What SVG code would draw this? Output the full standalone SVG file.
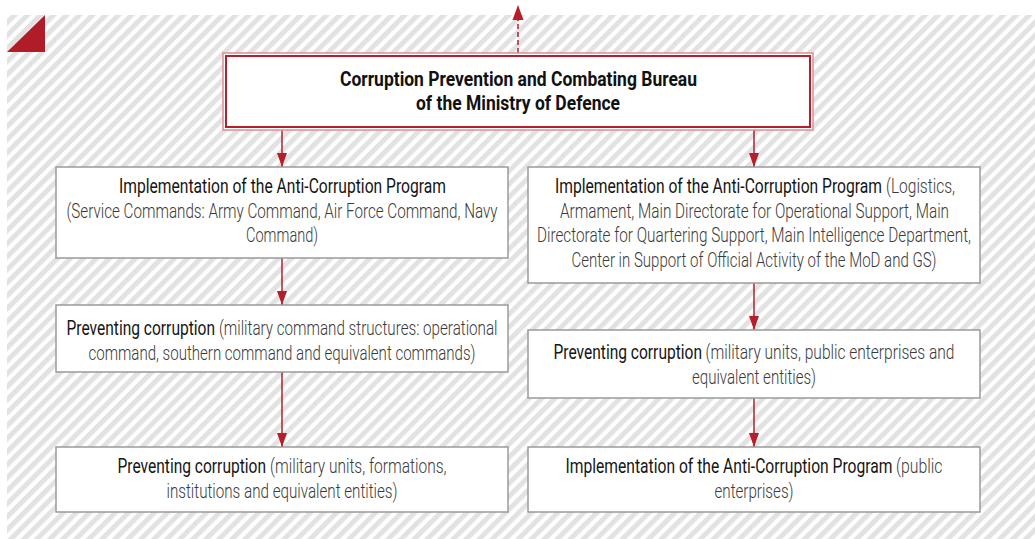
<svg xmlns="http://www.w3.org/2000/svg" width="1035" height="539" viewBox="0 0 1035 539">
<defs>
<pattern id="hatch" width="9.2" height="20" patternUnits="userSpaceOnUse" patternTransform="rotate(45)">
<rect x="0" y="0" width="9.2" height="20" fill="#ffffff"/>
<rect x="0" y="0" width="5" height="20" fill="#e2e2e2"/>
</pattern>
<marker id="ah" viewBox="0 0 14 10" refX="14" refY="5" markerWidth="14" markerHeight="10" markerUnits="userSpaceOnUse" orient="auto">
<path d="M0,0 L14,5 L0,10 Z" fill="#b51f2c"/>
</marker>
</defs>
<style>
.box{fill:#ffffff;stroke:#9a9a9a;stroke-width:1.5}
.t{font-family:Roboto,"Liberation Sans",sans-serif;font-size:14px;fill:#151515}
.l{font-weight:300;fill:#3a3a3a}
.b{font-family:Roboto,"Liberation Sans",sans-serif;font-size:14px;font-weight:700;fill:#111}
.con{stroke:#b51f2c;stroke-width:1.5;fill:none}
</style>
<rect x="7" y="15" width="1028" height="524" fill="url(#hatch)"/>
<polygon points="7,52 45,15 45,52" fill="#b01c28"/>
<g id="connectors">
<line class="con" x1="518" y1="53" x2="518" y2="20" stroke-dasharray="5,3"/>
<polygon points="518,5 512.5,20 523.5,20" fill="#b51f2c"/>
<line class="con" x1="282" y1="130" x2="282" y2="167" marker-end="url(#ah)"/>
<line class="con" x1="754" y1="130" x2="754" y2="167" marker-end="url(#ah)"/>
<line class="con" x1="282" y1="258" x2="282" y2="305" marker-end="url(#ah)"/>
<line class="con" x1="282" y1="372" x2="282" y2="447" marker-end="url(#ah)"/>
<line class="con" x1="754" y1="283" x2="754" y2="330" marker-end="url(#ah)"/>
<line class="con" x1="754" y1="398" x2="754" y2="447" marker-end="url(#ah)"/>
</g>
<g id="bureau">
<rect x="223" y="53" width="590" height="77" fill="#ffffff" stroke="#e08d94" stroke-width="1.5"/>
<rect x="226" y="56" width="584" height="71" fill="#ffffff" stroke="#b51f2c" stroke-width="2"/>
<text class="b" transform="translate(340 86) scale(1 1.4)" textLength="357" lengthAdjust="spacingAndGlyphs">Corruption Prevention and Combating Bureau</text>
<text class="b" transform="translate(416 110) scale(1 1.4)" textLength="204" lengthAdjust="spacingAndGlyphs">of the Ministry of Defence</text>
</g>
<g id="left1">
<rect class="box" x="56" y="167" width="452" height="91"/>
<text class="t" transform="translate(119 193) scale(1 1.43)" textLength="327" lengthAdjust="spacingAndGlyphs">Implementation of the Anti-Corruption Program</text>
<text class="t l" transform="translate(66.5 217.5) scale(1 1.43)" textLength="431" lengthAdjust="spacingAndGlyphs">(Service Commands: Army Command, Air Force Command, Navy</text>
<text class="t l" transform="translate(246 242) scale(1 1.43)" textLength="72" lengthAdjust="spacingAndGlyphs">Command)</text>
</g>
<g id="right1">
<rect class="box" x="528" y="167" width="452" height="116"/>
<text class="t" transform="translate(555 193) scale(1 1.43)" textLength="327" lengthAdjust="spacingAndGlyphs">Implementation of the Anti-Corruption Program</text>
<text class="t l" transform="translate(886 193) scale(1 1.43)" textLength="69" lengthAdjust="spacingAndGlyphs">(Logistics,</text>
<text class="t l" transform="translate(560 217.5) scale(1 1.43)" textLength="389" lengthAdjust="spacingAndGlyphs">Armament, Main Directorate for Operational Support, Main</text>
<text class="t l" transform="translate(537 242) scale(1 1.43)" textLength="434" lengthAdjust="spacingAndGlyphs">Directorate for Quartering Support, Main Intelligence Department,</text>
<text class="t l" transform="translate(571.5 266.5) scale(1 1.43)" textLength="365" lengthAdjust="spacingAndGlyphs">Center in Support of Official Activity of the MoD and GS)</text>
</g>
<g id="left2">
<rect class="box" x="56" y="305" width="452" height="67"/>
<text class="t" transform="translate(66.5 335) scale(1 1.43)" textLength="148.5" lengthAdjust="spacingAndGlyphs">Preventing corruption</text>
<text class="t l" transform="translate(219 335) scale(1 1.43)" textLength="278.5" lengthAdjust="spacingAndGlyphs">(military command structures: operational</text>
<text class="t l" transform="translate(88.5 359.5) scale(1 1.43)" textLength="387" lengthAdjust="spacingAndGlyphs">command, southern command and equivalent commands)</text>
</g>
<g id="right2">
<rect class="box" x="528" y="330" width="452" height="68"/>
<text class="t" transform="translate(553.5 359) scale(1 1.43)" textLength="148.5" lengthAdjust="spacingAndGlyphs">Preventing corruption</text>
<text class="t l" transform="translate(705.5 359) scale(1 1.43)" textLength="249" lengthAdjust="spacingAndGlyphs">(military units, public enterprises and</text>
<text class="t l" transform="translate(692 383.5) scale(1 1.43)" textLength="124" lengthAdjust="spacingAndGlyphs">equivalent entities)</text>
</g>
<g id="left3">
<rect class="box" x="56" y="447" width="452" height="65"/>
<text class="t" transform="translate(117.5 473) scale(1 1.43)" textLength="148.5" lengthAdjust="spacingAndGlyphs">Preventing corruption</text>
<text class="t l" transform="translate(270 473) scale(1 1.43)" textLength="176.5" lengthAdjust="spacingAndGlyphs">(military units, formations,</text>
<text class="t l" transform="translate(166.5 497.5) scale(1 1.43)" textLength="231" lengthAdjust="spacingAndGlyphs">institutions and equivalent entities)</text>
</g>
<g id="right3">
<rect class="box" x="528" y="447" width="452" height="65"/>
<text class="t" transform="translate(565.5 473) scale(1 1.43)" textLength="327" lengthAdjust="spacingAndGlyphs">Implementation of the Anti-Corruption Program</text>
<text class="t l" transform="translate(896 473) scale(1 1.43)" textLength="46.5" lengthAdjust="spacingAndGlyphs">(public</text>
<text class="t l" transform="translate(714.5 497.5) scale(1 1.43)" textLength="79" lengthAdjust="spacingAndGlyphs">enterprises)</text>
</g>
</svg>
